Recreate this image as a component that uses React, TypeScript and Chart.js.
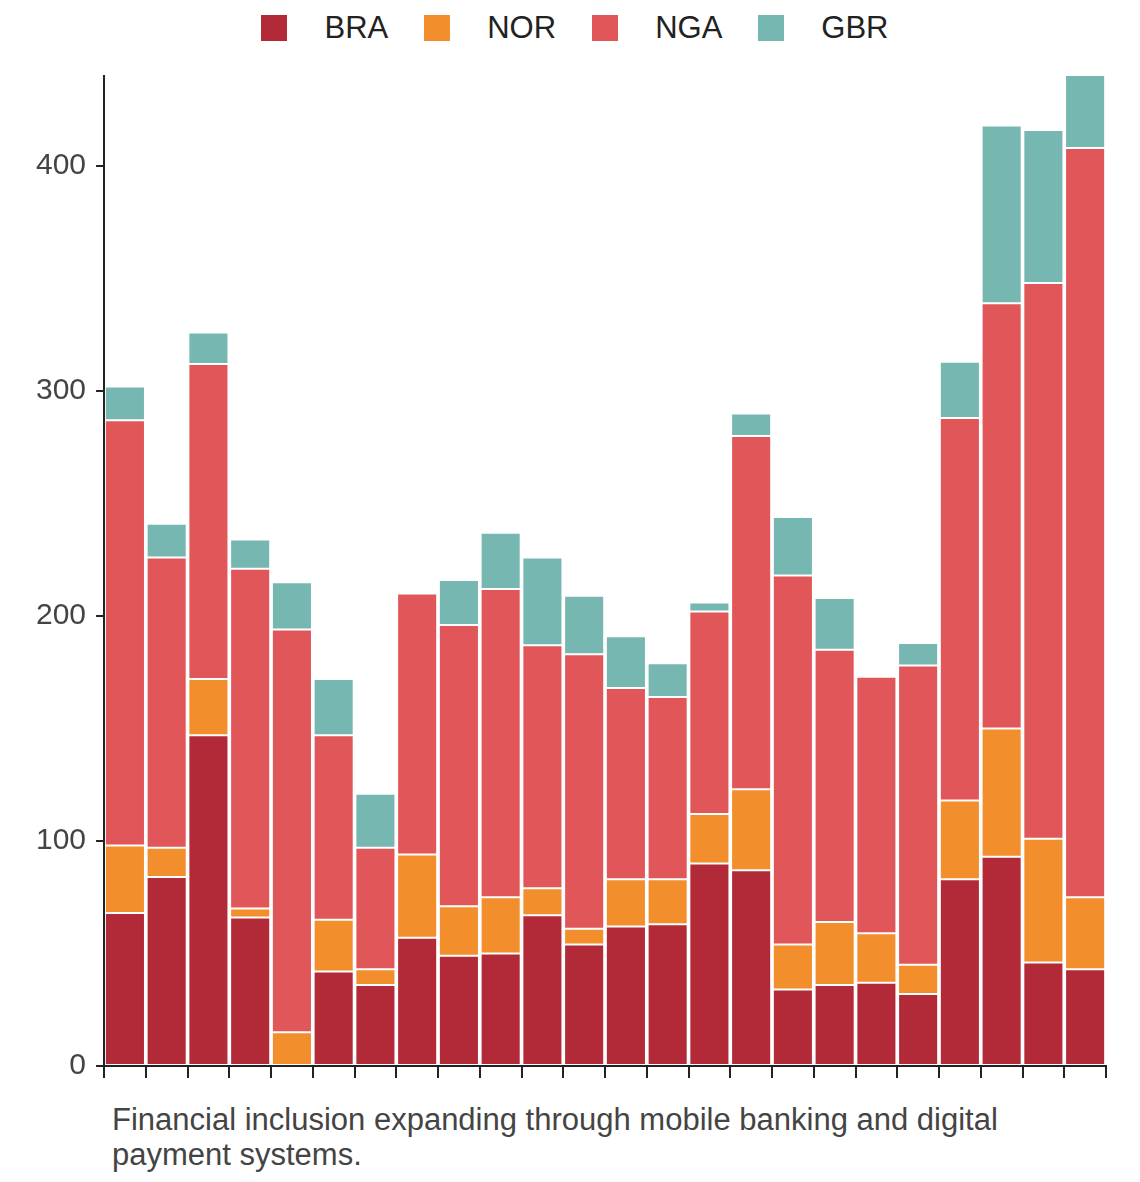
import { useEffect, useRef } from "react";
import { Chart, registerables } from "chart.js";

Chart.register(...registerables);

const categories = Array.from({ length: 24 }, (_, i) => `P${i + 1}`);
const bra = [68, 84, 147, 66, 0, 42, 36, 57, 49, 50, 67, 54, 62, 63, 90, 87, 34, 36, 37, 32, 83, 93, 46, 43];
const nor = [30, 13, 25, 4, 15, 23, 7, 37, 22, 25, 12, 7, 21, 20, 22, 36, 20, 28, 22, 13, 35, 57, 55, 32];
const nga = [189, 129, 140, 151, 179, 82, 54, 116, 125, 137, 108, 122, 85, 81, 90, 157, 164, 121, 114, 133, 170, 189, 247, 333];
const gbr = [15, 15, 14, 13, 21, 25, 24, 0, 20, 25, 39, 26, 23, 15, 4, 10, 26, 23, 0, 10, 25, 79, 68, 40];
const yTicks = [0, 100, 200, 300, 400];
const series = [
  { label: "BRA", data: bra, color: "#b22a38" },
  { label: "NOR", data: nor, color: "#f28e2c" },
  { label: "NGA", data: nga, color: "#e15759" },
  { label: "GBR", data: gbr, color: "#76b7b2" },
];

const FONT = "'Liberation Sans', Arial, sans-serif";

const App = () => {
  const chartRef = useRef<HTMLCanvasElement>(null);

  useEffect(() => {
    const ctx = chartRef.current?.getContext("2d");
    if (!ctx) return;
    const chart = new Chart(ctx, {
      type: "bar",
      data: {
        labels: categories,
        datasets: series.map((s) => ({
          label: s.label,
          data: s.data,
          backgroundColor: s.color,
          borderColor: "#ffffff",
          borderWidth: 1,
          borderSkipped: false as const,
          barPercentage: 1,
          categoryPercentage: 0.96,
        })),
      },
      options: {
        animation: false,
        responsive: true,
        maintainAspectRatio: false,
        layout: { padding: { left: 18, right: 26, top: 12 } },
        plugins: {
          legend: { display: false },
          tooltip: { enabled: false },
        },
        scales: {
          x: {
            stacked: true,
            offset: true,
            grid: { display: true, drawOnChartArea: false, offset: true, tickLength: 12, color: "#222", lineWidth: 2 },
            border: { color: "#222", width: 2 },
            ticks: { display: false },
          },
          y: {
            stacked: true,
            min: 0,
            max: 440,
            afterBuildTicks: (axis) => {
              axis.ticks = yTicks.map((v) => ({ value: v }));
            },
            grid: { display: true, drawOnChartArea: false, tickLength: 8, color: "#222", lineWidth: 2 },
            border: { color: "#222", width: 2 },
            ticks: { color: "#444", padding: 10, font: { family: FONT, size: 30 } },
          },
        },
      },
    });
    return () => chart.destroy();
  }, []);

  return (
    <div style={{ width: 1124, fontFamily: FONT }}>
      <div style={{ height: 40, display: "flex", justifyContent: "center", alignItems: "center", gap: 36, paddingLeft: 10 }}>
        {series.map((s) => (
          <div key={s.label} style={{ display: "flex", alignItems: "center", gap: 37, fontSize: 31, color: "#222" }}>
            <span style={{ width: 26, height: 26, background: s.color, display: "inline-block" }} />
            {s.label}
          </div>
        ))}
      </div>
      <div style={{ height: 1046, position: "relative" }}>
        <canvas ref={chartRef} />
      </div>
      <div style={{ marginLeft: 104, marginTop: 8, fontSize: 31, lineHeight: "35px", color: "#444" }}>
        Financial inclusion expanding through mobile banking and digital
        <br />
        payment systems.
      </div>
    </div>
  );
};

export default App;
